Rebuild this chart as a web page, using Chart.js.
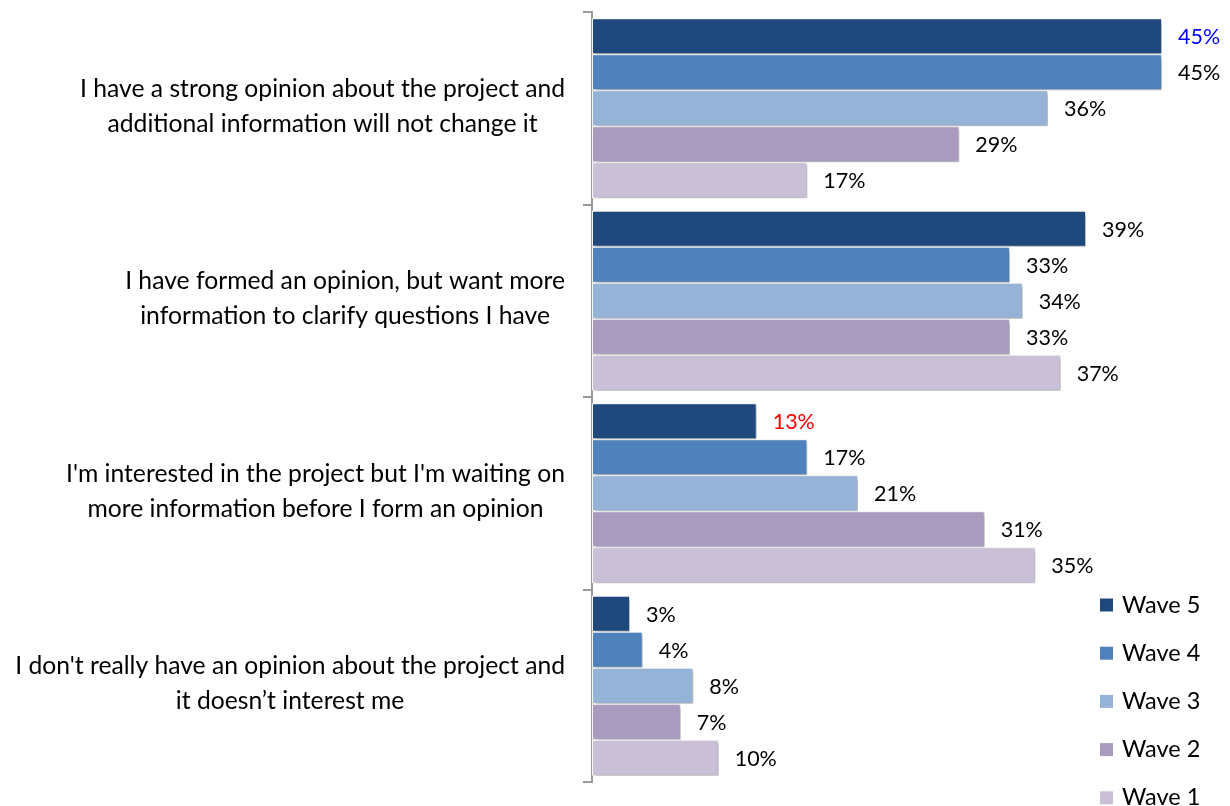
<!DOCTYPE html>
<html>
<head>
<meta charset="utf-8">
<script src="https://cdn.jsdelivr.net/npm/chart.js@4"></script>
<style>
  html, body { margin: 0; padding: 0; background: #fff; }
  #wrap { width: 1230px; height: 806px; position: relative; }
</style>
</head>
<body>
<div id="wrap"><canvas id="c" width="1230" height="806"></canvas></div>
<script>
// Survey statements (category axis)
const categories = [
  ["I have a strong opinion about the project and", "additional information will not change it"],
  ["I have formed an opinion, but want more", "information to clarify questions I have"],
  ["I'm interested in the project but I'm waiting on", "more information before I form an opinion"],
  ["I don't really have an opinion about the project and", "it doesn\u2019t interest me"]
];

// Share of respondents (%) per wave
const wave5 = [45, 39, 13, 3];
const wave4 = [45, 33, 17, 4];
const wave3 = [36, 34, 21, 8];
const wave2 = [29, 33, 31, 7];
const wave1 = [17, 37, 35, 10];

const seriesNames = ["Wave 5", "Wave 4", "Wave 3", "Wave 2", "Wave 1"];

// Styling
const seriesColors = ["#1F497D", "#4F81BD", "#95B3D7", "#A99BBF", "#C9C0D8"];
const wave5LabelColors = ["#0000FF", "#000000", "#FF0000", "#000000"];
const FONT = "Lato, 'Open Sans', sans-serif";

const seriesValues = [wave5, wave4, wave3, wave2, wave1];

const datasets = seriesValues.map((vals, i) => ({
  label: seriesNames[i],
  data: vals,
  backgroundColor: seriesColors[i],
  borderColor: "#FFFFFF",
  borderWidth: 1,
  borderSkipped: false,
  barPercentage: 1.0,
  categoryPercentage: 0.935
}));

// Soft drop shadow under the bars
const barShadow = {
  id: "barShadow",
  beforeDatasetsDraw(chart) {
    const ctx = chart.ctx;
    ctx.save();
    ctx.shadowColor = "rgba(0,0,0,0.35)";
    ctx.shadowBlur = 4;
    ctx.shadowOffsetX = 2;
    ctx.shadowOffsetY = 2;
  },
  afterDatasetsDraw(chart) {
    chart.ctx.restore();
  }
};

// Percentage labels at the end of each bar
const valueLabels = {
  id: "valueLabels",
  afterDatasetsDraw(chart) {
    const ctx = chart.ctx;
    ctx.save();
    ctx.font = "21.5px " + FONT;
    ctx.textAlign = "left";
    ctx.textBaseline = "middle";
    chart.data.datasets.forEach((ds, di) => {
      const meta = chart.getDatasetMeta(di);
      meta.data.forEach((bar, i) => {
        ctx.fillStyle = di === 0 ? wave5LabelColors[i] : "#000000";
        ctx.fillText(ds.data[i] + "%", bar.x + 16, bar.y + 1);
      });
    });
    ctx.restore();
  }
};

// Category labels: each block right-aligned to the axis, its lines centred on each other
const categoryLabels = {
  id: "categoryLabels",
  afterDraw(chart) {
    const ctx = chart.ctx;
    const scale = chart.scales.y;
    const rightEdge = scale.right - 27;
    const lineGap = 35;
    ctx.save();
    ctx.font = "24.7px " + FONT;
    ctx.fillStyle = "#000000";
    ctx.textAlign = "center";
    ctx.textBaseline = "middle";
    chart.data.labels.forEach((lines, i) => {
      const yc = scale.getPixelForTick(i) - 2;
      const widest = Math.max(...lines.map(l => ctx.measureText(l).width));
      const xc = rightEdge - widest / 2;
      const y0 = yc - (lines.length - 1) * lineGap / 2;
      lines.forEach((l, k) => ctx.fillText(l, xc, y0 + k * lineGap));
    });
    ctx.restore();
  }
};

// Legend in the lower right corner
const sideLegend = {
  id: "sideLegend",
  afterDraw(chart) {
    const ctx = chart.ctx;
    ctx.save();
    ctx.font = "23.5px " + FONT;
    ctx.textBaseline = "middle";
    ctx.textAlign = "left";
    chart.data.datasets.forEach((ds, i) => {
      const y = 605 + i * 48.2;
      ctx.fillStyle = ds.backgroundColor;
      ctx.fillRect(1100, y - 6.5, 13, 13);
      ctx.fillStyle = "#000000";
      ctx.fillText(ds.label, 1122, y);
    });
    ctx.restore();
  }
};

new Chart(document.getElementById("c"), {
  type: "bar",
  data: { labels: categories, datasets },
  options: {
    indexAxis: "y",
    responsive: false,
    animation: false,
    layout: { padding: { top: 12, bottom: 24, left: 0, right: 68 } },
    plugins: {
      legend: { display: false },
      tooltip: { enabled: false }
    },
    scales: {
      x: {
        display: false,
        min: 0,
        max: 45
      },
      y: {
        afterFit(scale) {
          scale.width = 592;
          scale.paddingTop = 0;
          scale.paddingBottom = 0;
        },
        grid: {
          offset: true,
          drawOnChartArea: false,
          drawTicks: true,
          tickLength: 9,
          color: "#9A9A9A",
          lineWidth: 2
        },
        border: { display: true, color: "#9A9A9A", width: 2 },
        ticks: { display: false }
      }
    }
  },
  plugins: [barShadow, valueLabels, categoryLabels, sideLegend]
});
</script>
</body>
</html>
